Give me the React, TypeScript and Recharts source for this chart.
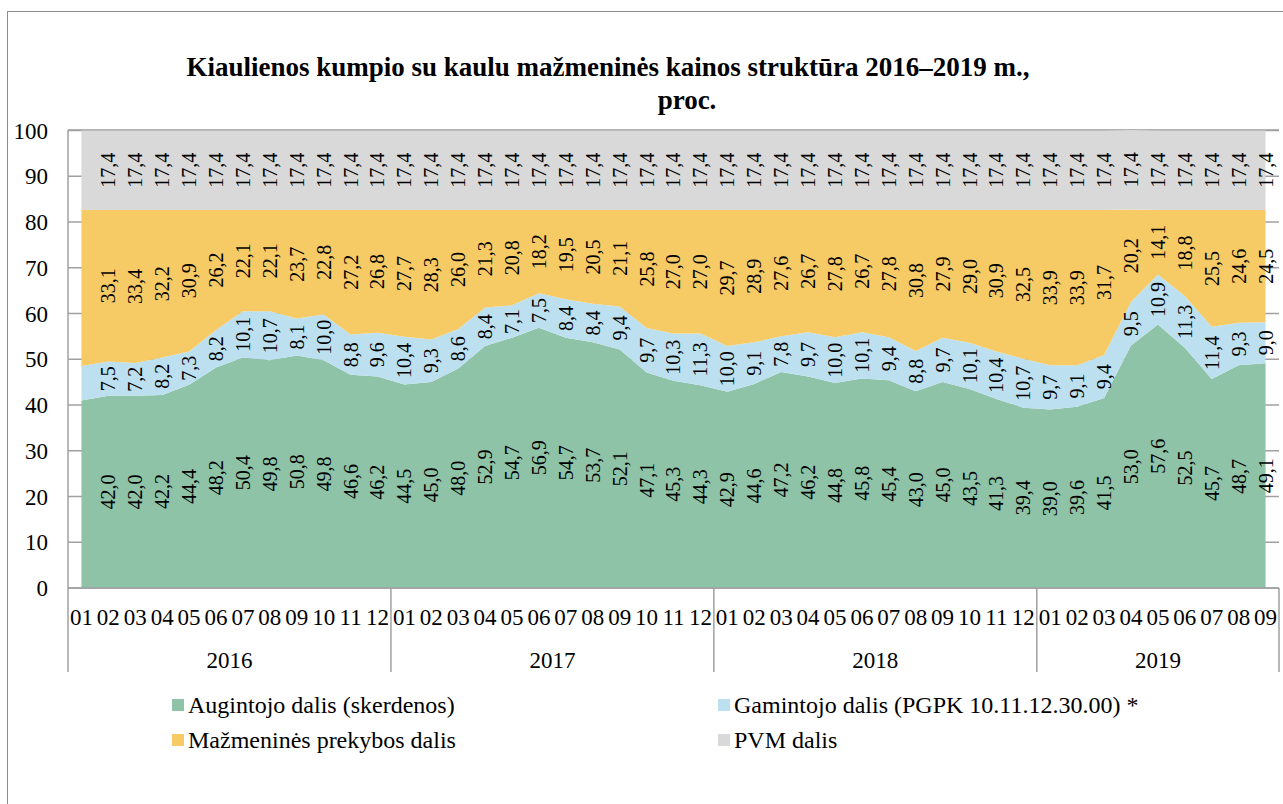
import { ComposedChart, Area, Line, XAxis, YAxis, CartesianGrid, LabelList } from 'recharts';

const FONT = '"Liberation Serif", "Times New Roman", serif';

const MONTHS = [
  '01', '02', '03', '04', '05', '06', '07', '08', '09', '10', '11', '12',
  '01', '02', '03', '04', '05', '06', '07', '08', '09', '10', '11', '12',
  '01', '02', '03', '04', '05', '06', '07', '08', '09', '10', '11', '12',
  '01', '02', '03', '04', '05', '06', '07', '08', '09',
];
const YEAR_OF = [
  ...Array(12).fill('2016'), ...Array(12).fill('2017'),
  ...Array(12).fill('2018'), ...Array(9).fill('2019'),
];

// Augintojo dalis (skerdenos)
const AUGINTOJO = [
  41.0, 42.0, 42.0, 42.2, 44.4, 48.2, 50.4, 49.8, 50.8, 49.8, 46.6, 46.2,
  44.5, 45.0, 48.0, 52.9, 54.7, 56.9, 54.7, 53.7, 52.1, 47.1, 45.3, 44.3,
  42.9, 44.6, 47.2, 46.2, 44.8, 45.8, 45.4, 43.0, 45.0, 43.5, 41.3, 39.4,
  39.0, 39.6, 41.5, 53.0, 57.6, 52.5, 45.7, 48.7, 49.1,
];
// Gamintojo dalis (PGPK 10.11.12.30.00)
const GAMINTOJO = [
  7.5, 7.5, 7.2, 8.2, 7.3, 8.2, 10.1, 10.7, 8.1, 10.0, 8.8, 9.6,
  10.4, 9.3, 8.6, 8.4, 7.1, 7.5, 8.4, 8.4, 9.4, 9.7, 10.3, 11.3,
  10.0, 9.1, 7.8, 9.7, 10.0, 10.1, 9.4, 8.8, 9.7, 10.1, 10.4, 10.7,
  9.7, 9.1, 9.4, 9.5, 10.9, 11.3, 11.4, 9.3, 9.0,
];
// Mažmeninės prekybos dalis
const PREKYBA = [
  34.1, 33.1, 33.4, 32.2, 30.9, 26.2, 22.1, 22.1, 23.7, 22.8, 27.2, 26.8,
  27.7, 28.3, 26.0, 21.3, 20.8, 18.2, 19.5, 20.5, 21.1, 25.8, 27.0, 27.0,
  29.7, 28.9, 27.6, 26.7, 27.8, 26.7, 27.8, 30.8, 27.9, 29.0, 30.9, 32.5,
  33.9, 33.9, 31.7, 20.2, 14.1, 18.8, 25.5, 24.6, 24.5,
];
// PVM dalis
const PVM = Array(45).fill(17.4);

const Y_TICKS = [0, 10, 20, 30, 40, 50, 60, 70, 80, 90, 100];

const SERIES = [
  { key: 'g', name: 'Augintojo dalis (skerdenos)', color: '#8ec3a7' },
  { key: 'b', name: 'Gamintojo dalis (PGPK 10.11.12.30.00) *', color: '#bde0f0' },
  { key: 'm', name: 'Mažmeninės prekybos dalis', color: '#f6cb66' },
  { key: 'v', name: 'PVM dalis', color: '#d9d9d9' },
];

const data = MONTHS.map((month, i) => {
  const g = AUGINTOJO[i];
  const b = GAMINTOJO[i];
  const m = PREKYBA[i];
  const v = PVM[i];
  return {
    period: `${YEAR_OF[i]}-${month}`,
    g, b, m, v,
    // band centres, used only to place the value labels
    gMid: g / 2,
    bMid: g + b / 2,
    mMid: g + b + m / 2,
    vMid: g + b + m + v / 2,
  };
});

const W = 1283;
const H = 804;
const PLOT_LEFT = 68;
const PLOT_RIGHT = 1279;
const PLOT_TOP = 130;
const PLOT_BOTTOM = 588;
const X_AXIS_H = 90;
const BAND = (PLOT_RIGHT - PLOT_LEFT) / MONTHS.length;
const AXIS_COLOR = '#a0a0a0';

const fmt = (v: number) => v.toFixed(1).replace('.', ',');

function MonthTick(props: any) {
  const { x, y, index } = props;
  const i: number = index;
  const year = YEAR_OF[i];
  const first = YEAR_OF.indexOf(year);
  const last = YEAR_OF.lastIndexOf(year);
  const mid = (first + last) / 2;
  return (
    <g>
      <text x={x} y={y + 29} textAnchor="middle" dominantBaseline="central"
        fontFamily={FONT} fontSize={23} fill="#000">
        {MONTHS[i]}
      </text>
      {i === first && (
        <line x1={x - BAND / 2} x2={x - BAND / 2} y1={y} y2={y + 84} stroke={AXIS_COLOR} strokeWidth={1.5} />
      )}
      {i === MONTHS.length - 1 && (
        <line x1={x + BAND / 2} x2={x + BAND / 2} y1={y} y2={y + 84} stroke={AXIS_COLOR} strokeWidth={1.5} />
      )}
      {i === Math.floor(mid) && (
        <text x={x + (mid - i) * BAND} y={y + 72} textAnchor="middle" dominantBaseline="central"
          fontFamily={FONT} fontSize={23} fill="#000">
          {year}
        </text>
      )}
    </g>
  );
}

function BandLabel(props: any) {
  const { x, y, value, index } = props;
  if (index === 0 || x == null || y == null) return null;
  return (
    <text x={x} y={y} transform={`rotate(-90 ${x} ${y})`} textAnchor="middle"
      dominantBaseline="central" fontFamily={FONT} fontSize={20} fill="#000">
      {fmt(Number(value))}
    </text>
  );
}

const LEGEND_POS = [
  { left: 172, top: 705 },
  { left: 718, top: 705 },
  { left: 172, top: 740 },
  { left: 718, top: 740 },
];

export default function App() {
  return (
    <div style={{ position: 'absolute', left: 0, top: 0, width: W, height: H, background: '#fff', overflow: 'hidden' }}>
      <div style={{
        position: 'absolute', left: 7, top: 11, width: W, height: H,
        borderLeft: '1.5px solid #8c8c8c', borderTop: '1.5px solid #8c8c8c',
      }} />
      <div style={{
        position: 'absolute', left: 608 - 500, top: 51, width: 1000, textAlign: 'center',
        fontFamily: FONT, fontWeight: 'bold', fontSize: 27, lineHeight: '32px', color: '#000',
      }}>
        Kiaulienos kumpio su kaulu mažmeninės kainos struktūra 2016–2019 m.,
      </div>
      <div style={{
        position: 'absolute', left: 687 - 100, top: 84, width: 200, textAlign: 'center',
        fontFamily: FONT, fontWeight: 'bold', fontSize: 27, lineHeight: '32px', color: '#000',
      }}>
        proc.
      </div>
      <div style={{ position: 'absolute', left: 0, top: 0 }}>
        <ComposedChart
          width={W}
          height={H}
          data={data}
          margin={{ top: PLOT_TOP, right: W - PLOT_RIGHT, bottom: H - PLOT_BOTTOM - X_AXIS_H, left: 8 }}
        >
          <CartesianGrid vertical={false} stroke={AXIS_COLOR} strokeWidth={1.5} />
          <XAxis
            dataKey="period"
            interval={0}
            height={X_AXIS_H}
            padding={{ left: BAND / 2, right: BAND / 2 }}
            tick={<MonthTick />}
            tickSize={0}
            tickMargin={0}
            tickLine={false}
            axisLine={{ stroke: AXIS_COLOR, strokeWidth: 1.5 }}
          />
          <YAxis
            width={PLOT_LEFT - 8}
            domain={[0, 100]}
            ticks={Y_TICKS}
            interval={0}
            tickSize={0}
            tickMargin={20}
            tickLine={false}
            axisLine={{ stroke: AXIS_COLOR, strokeWidth: 1.5 }}
            tick={{ fill: '#000', fontSize: 23, fontFamily: FONT }}
          />
          {SERIES.map((s) => (
            <Area
              key={s.key}
              type="linear"
              dataKey={s.key}
              name={s.name}
              stackId="1"
              stroke="none"
              fill={s.color}
              fillOpacity={1}
              isAnimationActive={false}
            />
          ))}
          {SERIES.map((s) => (
            <Line
              key={`${s.key}Mid`}
              type="linear"
              dataKey={`${s.key}Mid`}
              stroke="none"
              dot={false}
              activeDot={false}
              legendType="none"
              isAnimationActive={false}
            >
              <LabelList dataKey={s.key} content={<BandLabel />} />
            </Line>
          ))}
        </ComposedChart>
      </div>
      {SERIES.map((s, i) => (
        <div key={s.key} style={{
          position: 'absolute', left: LEGEND_POS[i].left, top: LEGEND_POS[i].top - 14,
          height: 28, display: 'flex', alignItems: 'center',
          fontFamily: FONT, fontSize: 24, color: '#000', whiteSpace: 'nowrap',
        }}>
          <span style={{ display: 'inline-block', width: 12, height: 12, background: s.color, marginRight: 4 }} />
          {s.name}
        </div>
      ))}
    </div>
  );
}
